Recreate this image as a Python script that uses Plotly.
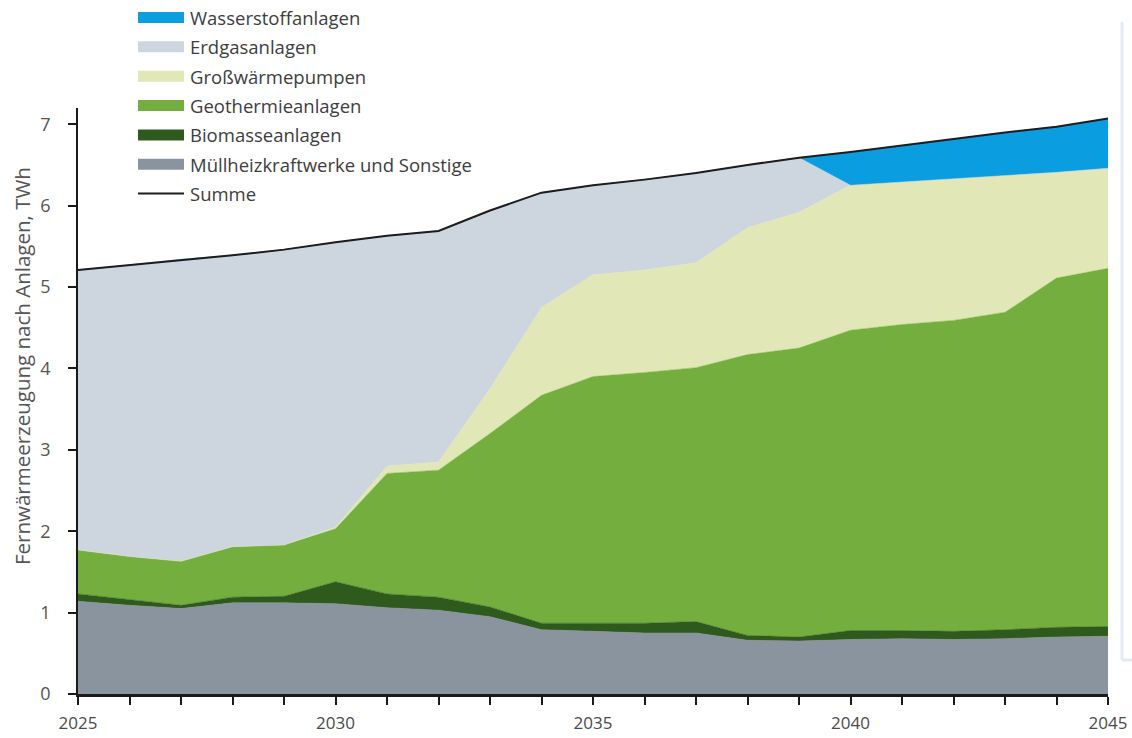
import plotly.graph_objects as go

years = list(range(2025, 2046))

muell = [1.14, 1.09, 1.05, 1.12, 1.12, 1.11, 1.06, 1.03, 0.95, 0.79, 0.77,
         0.75, 0.75, 0.66, 0.65, 0.67, 0.68, 0.67, 0.68, 0.70, 0.71]
biomasse = [0.09, 0.07, 0.04, 0.07, 0.08, 0.27, 0.17, 0.16, 0.12, 0.08, 0.10,
            0.12, 0.14, 0.06, 0.05, 0.11, 0.10, 0.10, 0.11, 0.12, 0.12]
geothermie = [0.54, 0.53, 0.54, 0.62, 0.63, 0.65, 1.48, 1.56, 2.13, 2.80, 3.03,
              3.08, 3.12, 3.45, 3.55, 3.69, 3.76, 3.82, 3.90, 4.29, 4.40]
waermepumpen = [0.0, 0.0, 0.0, 0.0, 0.0, 0.02, 0.09, 0.10, 0.55, 1.08, 1.25,
                1.26, 1.29, 1.56, 1.67, 1.78, 1.75, 1.74, 1.68, 1.30, 1.23]
erdgas = [3.44, 3.58, 3.71, 3.58, 3.63, 3.50, 2.83, 2.84, 2.19, 1.41, 1.10,
          1.11, 1.10, 0.77, 0.67, 0.0, 0.0, 0.0, 0.0, 0.0, 0.0]
wasserstoff = [0.0, 0.0, 0.0, 0.0, 0.0, 0.0, 0.0, 0.0, 0.0, 0.0, 0.0,
               0.0, 0.0, 0.0, 0.0, 0.41, 0.45, 0.49, 0.53, 0.56, 0.61]
summe = [5.21, 5.27, 5.33, 5.39, 5.46, 5.55, 5.63, 5.69, 5.94, 6.16, 6.25,
         6.32, 6.40, 6.50, 6.59, 6.66, 6.74, 6.82, 6.90, 6.97, 7.07]

x_tick_text = [str(y) if y % 5 == 0 else "" for y in years]
y_ticks = [0, 1, 2, 3, 4, 5, 6, 7]

series = [
    ("Müllheizkraftwerke und Sonstige", muell, "#8a949e"),
    ("Biomasseanlagen", biomasse, "#2f5a1d"),
    ("Geothermieanlagen", geothermie, "#73ae3e"),
    ("Großwärmepumpen", waermepumpen, "#e1e7b7"),
    ("Erdgasanlagen", erdgas, "#cdd5df"),
    ("Wasserstoffanlagen", wasserstoff, "#0a9de0"),
]
summe_name = "Summe"
summe_color = "#1c1c1c"

fig = go.Figure()
for name, vals, col in series:
    fig.add_trace(go.Scatter(
        x=years, y=vals, name=name, mode="lines", stackgroup="one",
        line=dict(width=0.5, color=col), fillcolor=col, showlegend=False,
    ))
fig.add_trace(go.Scatter(
    x=years, y=summe, name=summe_name, mode="lines",
    line=dict(width=2, color=summe_color), showlegend=False,
))

# Layout geometry (pixels)
W, H = 1132, 738
L, R, T, B = 78, 24, 108, 44
PW, PH = W - L - R, H - T - B


def px_x(px):
    return (px - L) / PW


def px_y(py):
    return (H - B - py) / PH


font_family = "Open Sans, Noto Sans, sans-serif"
text_col = "#3d3d3d"

shapes = []
annotations = []
legend_items = [(n, c) for n, _, c in reversed(series)]
row0, row_step = 17.5, 29.35
for i, (name, col) in enumerate(legend_items):
    cy = row0 + i * row_step
    shapes.append(dict(type="rect", xref="paper", yref="paper",
                       x0=px_x(138), x1=px_x(184), y0=px_y(cy + 5.5), y1=px_y(cy - 5.5),
                       fillcolor=col, line=dict(width=0)))
    annotations.append(dict(text=name, xref="paper", yref="paper",
                            x=px_x(188), y=px_y(cy), xanchor="left", yanchor="middle",
                            showarrow=False, font=dict(size=18.5, color=text_col, family=font_family)))
cy = row0 + len(legend_items) * row_step
shapes.append(dict(type="line", xref="paper", yref="paper",
                   x0=px_x(138), x1=px_x(184), y0=px_y(cy), y1=px_y(cy),
                   line=dict(color=summe_color, width=2)))
annotations.append(dict(text=summe_name, xref="paper", yref="paper",
                        x=px_x(188), y=px_y(cy), xanchor="left", yanchor="middle",
                        showarrow=False, font=dict(size=18.5, color=text_col, family=font_family)))

# y-axis title as rotated text
annotations.append(dict(text="Fernwärmeerzeugung nach Anlagen, TWh", xref="paper", yref="paper",
                        x=px_x(22), y=px_y(366), xanchor="center", yanchor="middle",
                        textangle=-90, showarrow=False,
                        font=dict(size=20.5, color="#555555", family=font_family)))

# faint frame of neighbouring panel at right edge
shapes.append(dict(type="line", xref="paper", yref="paper",
                   x0=px_x(1122), x1=px_x(1122), y0=px_y(660), y1=px_y(22),
                   line=dict(color="#e3eaf3", width=3)))
shapes.append(dict(type="line", xref="paper", yref="paper",
                   x0=px_x(1122), x1=px_x(1132), y0=px_y(660), y1=px_y(660),
                   line=dict(color="#e3eaf3", width=3)))

fig.update_layout(
    width=W, height=H,
    margin=dict(l=L, r=R, t=T, b=B, autoexpand=False),
    paper_bgcolor="white", plot_bgcolor="white",
    showlegend=False,
    shapes=shapes, annotations=annotations,
    font=dict(family=font_family, color=text_col),
    xaxis=dict(
        range=[2025, 2045], tickmode="array", tickvals=years, ticktext=x_tick_text,
        ticks="outside", ticklen=8, tickwidth=1.5, tickcolor="#1a1a1a",
        showline=True, linecolor="#1a1a1a", linewidth=2.5,
        showgrid=False, zeroline=False, automargin=False,
        tickfont=dict(size=17, color="#4a4a4a", family=font_family),
        ticklabelstandoff=4,
    ),
    yaxis=dict(
        range=[0, 7.2], tickmode="array", tickvals=y_ticks,
        ticks="outside", ticklen=8, tickwidth=1.5, tickcolor="#1a1a1a",
        showline=True, linecolor="#1a1a1a", linewidth=1.5,
        showgrid=False, zeroline=False, automargin=False,
        tickfont=dict(size=18, color="#555555", family=font_family),
        ticklabelstandoff=14,
    ),
)

fig.write_html(
    "out.html",
    config={"displayModeBar": False},
    post_script="document.body.style.margin='0';document.body.style.overflow='hidden';",
)
